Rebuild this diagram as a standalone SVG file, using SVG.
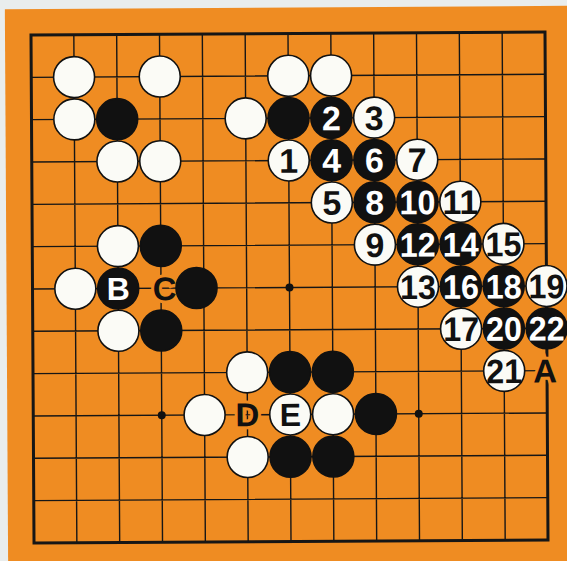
<svg xmlns="http://www.w3.org/2000/svg" width="567" height="561" viewBox="0 0 567 561">
<style>
.bg{fill:#e9eded}
.board{fill:#ef8c22}
.ln{stroke:#161616;stroke-width:1.4;fill:none}
.edge{stroke:#161616;stroke-width:3;fill:none}
.w{fill:#fbfbf6;stroke:#111;stroke-width:1.6}
.b{fill:#111;stroke:#111;stroke-width:1.6}
.t{font-family:"Liberation Sans",Arial,sans-serif;font-weight:bold;font-size:34px;text-anchor:middle}
.tw{fill:#fff}
.tb{fill:#111}
.lab{font-family:"Liberation Sans",Arial,sans-serif;font-weight:bold;font-size:33px;text-anchor:middle;fill:#111;stroke:#ef8c22;stroke-width:6;paint-order:stroke}
.star{fill:#111}
</style>
<rect class="bg" x="0" y="0" width="567" height="561"/>
<g transform="translate(31,35) rotate(-0.34)">
<rect class="board" x="-26" y="-26" width="600" height="600"/>
<g id="grid">
<path class="ln" d="M42.83,0V508M85.67,0V508M128.5,0V508M171.33,0V508M214.17,0V508M257,0V508M299.83,0V508M342.67,0V508M385.5,0V508M428.33,0V508M471.17,0V508M0,42.33H514M0,84.67H514M0,127H514M0,169.33H514M0,211.67H514M0,254H514M0,296.33H514M0,338.67H514M0,381H514M0,423.33H514M0,465.67H514"/>
<rect class="edge" x="0" y="0" width="514" height="508"/>
<circle class="star" cx="257" cy="254" r="4"/>
<circle class="star" cx="128.5" cy="381" r="4"/>
<circle class="star" cx="385.5" cy="381" r="4"/>
</g>
<g id="topleft">
<circle class="w" cx="42.83" cy="42.33" r="20.5"/>
<circle class="w" cx="128.5" cy="42.33" r="20.5"/>
<circle class="w" cx="42.83" cy="84.67" r="20.5"/>
<circle class="b" cx="85.67" cy="84.67" r="20.5"/>
<circle class="w" cx="85.67" cy="127" r="20.5"/>
<circle class="w" cx="128.5" cy="127" r="20.5"/>
</g>
<g id="topmid">
<circle class="w" cx="257" cy="42.33" r="20.5"/>
<circle class="w" cx="299.83" cy="42.33" r="20.5"/>
<circle class="w" cx="214.17" cy="84.67" r="20.5"/>
<circle class="b" cx="257" cy="84.67" r="20.5"/>
</g>
<g id="s1"><circle class="w" cx="257" cy="127" r="20.5"/><text class="t tb" x="257" y="139.2">1</text></g>
<g id="s2"><circle class="b" cx="299.83" cy="84.67" r="20.5"/><text class="t tw" x="299.83" y="96.9">2</text></g>
<g id="s3"><circle class="w" cx="342.67" cy="84.67" r="20.5"/><text class="t tb" x="342.67" y="96.9">3</text></g>
<g id="s4"><circle class="b" cx="299.83" cy="127" r="20.5"/><text class="t tw" x="299.83" y="139.2">4</text></g>
<g id="s5"><circle class="w" cx="299.83" cy="169.33" r="20.5"/><text class="t tb" x="299.83" y="181.5">5</text></g>
<g id="s6"><circle class="b" cx="342.67" cy="127" r="20.5"/><text class="t tw" x="342.67" y="139.2">6</text></g>
<g id="s7"><circle class="w" cx="385.5" cy="127" r="20.5"/><text class="t tb" x="385.5" y="139.2">7</text></g>
<g id="s8"><circle class="b" cx="342.67" cy="169.33" r="20.5"/><text class="t tw" x="342.67" y="181.5">8</text></g>
<g id="s9"><circle class="w" cx="342.67" cy="211.67" r="20.5"/><text class="t tb" x="342.67" y="223.9">9</text></g>
<g id="s10"><circle class="b" cx="385.5" cy="169.33" r="20.5"/><text class="t tw" x="385.5" y="181.5" textLength="36" lengthAdjust="spacingAndGlyphs">10</text></g>
<g id="s11"><circle class="w" cx="428.33" cy="169.33" r="20.5"/><text class="t tb" x="428.33" y="181.5" textLength="36" lengthAdjust="spacingAndGlyphs">11</text></g>
<g id="s12"><circle class="b" cx="385.5" cy="211.67" r="20.5"/><text class="t tw" x="385.5" y="223.9" textLength="36" lengthAdjust="spacingAndGlyphs">12</text></g>
<g id="s13"><circle class="w" cx="385.5" cy="254" r="20.5"/><text class="t tb" x="385.5" y="266.2" textLength="36" lengthAdjust="spacingAndGlyphs">13</text></g>
<g id="s14"><circle class="b" cx="428.33" cy="211.67" r="20.5"/><text class="t tw" x="428.33" y="223.9" textLength="36" lengthAdjust="spacingAndGlyphs">14</text></g>
<g id="s15"><circle class="w" cx="471.17" cy="211.67" r="20.5"/><text class="t tb" x="471.17" y="223.9" textLength="36" lengthAdjust="spacingAndGlyphs">15</text></g>
<g id="s16"><circle class="b" cx="428.33" cy="254" r="20.5"/><text class="t tw" x="428.33" y="266.2" textLength="36" lengthAdjust="spacingAndGlyphs">16</text></g>
<g id="s17"><circle class="w" cx="428.33" cy="296.33" r="20.5"/><text class="t tb" x="428.33" y="308.5" textLength="36" lengthAdjust="spacingAndGlyphs">17</text></g>
<g id="s18"><circle class="b" cx="471.17" cy="254" r="20.5"/><text class="t tw" x="471.17" y="266.2" textLength="36" lengthAdjust="spacingAndGlyphs">18</text></g>
<g id="s19"><circle class="w" cx="514" cy="254" r="20.5"/><text class="t tb" x="514" y="266.2" textLength="36" lengthAdjust="spacingAndGlyphs">19</text></g>
<g id="s20"><circle class="b" cx="471.17" cy="296.33" r="20.5"/><text class="t tw" x="471.17" y="308.5" textLength="36" lengthAdjust="spacingAndGlyphs">20</text></g>
<g id="s21"><circle class="w" cx="471.17" cy="338.67" r="20.5"/><text class="t tb" x="471.17" y="350.9" textLength="36" lengthAdjust="spacingAndGlyphs">21</text></g>
<g id="s22"><circle class="b" cx="514" cy="296.33" r="20.5"/><text class="t tw" x="514" y="308.5" textLength="36" lengthAdjust="spacingAndGlyphs">22</text></g>
<g id="labelA"><text class="lab" x="512" y="350.5">A</text></g>
<g id="leftmid">
<circle class="w" cx="85.67" cy="211.67" r="20.5"/>
<circle class="b" cx="128.5" cy="211.67" r="20.5"/>
<circle class="w" cx="42.83" cy="254" r="20.5"/>
<circle class="w" cx="85.67" cy="296.33" r="20.5"/>
<circle class="b" cx="128.5" cy="296.33" r="20.5"/>
</g>
<g id="labelC"><text class="lab" x="132" y="266">C</text></g>
<g id="stoneC"><circle class="b" cx="164" cy="254" r="20.5"/></g>
<g id="stoneB"><circle class="b" cx="85.67" cy="254" r="20.5"/><text class="t tw" x="85.67" y="265.5" style="font-size:32px">B</text></g>
<g id="bottommid">
<circle class="w" cx="214.17" cy="338.67" r="20.5"/>
<circle class="b" cx="257" cy="338.67" r="20.5"/>
<circle class="b" cx="299.83" cy="338.67" r="20.5"/>
<circle class="w" cx="171.33" cy="381" r="20.5"/>
<circle class="w" cx="299.83" cy="381" r="20.5"/>
<circle class="b" cx="342.67" cy="381" r="20.5"/>
<circle class="w" cx="214.17" cy="423.33" r="20.5"/>
<circle class="b" cx="257" cy="423.33" r="20.5"/>
<circle class="b" cx="299.83" cy="423.33" r="20.5"/>
</g>
<g id="labelD"><text class="lab" x="214.17" y="392.5">D</text></g>
<g id="stoneE"><circle class="w" cx="257" cy="381" r="20.5"/><text class="t tb" x="257" y="392.5" style="font-size:32px">E</text></g>
</g>
</svg>
